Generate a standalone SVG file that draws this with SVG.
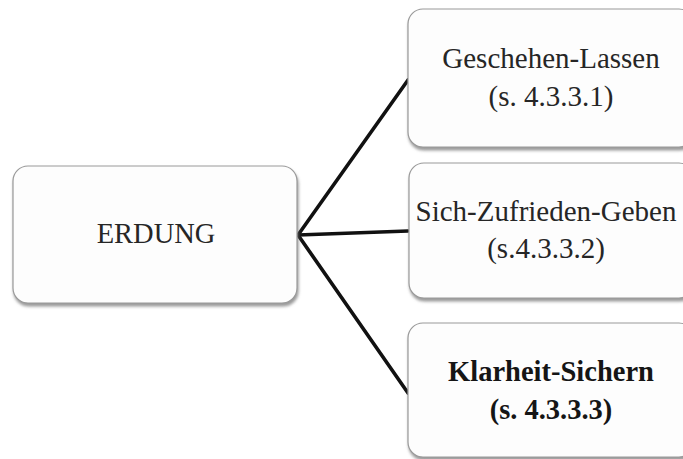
<svg xmlns="http://www.w3.org/2000/svg" width="683" height="459" viewBox="0 0 683 459">
  <defs>
    <filter id="shadow" x="-10%" y="-10%" width="120%" height="130%">
      <feDropShadow dx="1" dy="3" stdDeviation="1.6" flood-color="#777" flood-opacity="0.75"/>
    </filter>
  </defs>
  <style>
    .box { fill: #fdfdfd; stroke: #9a9a9a; stroke-width: 1.2; filter: url(#shadow); }
    .label { font-family: "Liberation Serif", "Times New Roman", serif; font-size: 29px; fill: #262626; text-anchor: middle; }
    .root { font-size: 28.5px; }
    .bold { font-weight: bold; fill: #151515; font-size: 28.5px; }
    .link { stroke: #111; stroke-width: 3.6; fill: none; stroke-linecap: round; }
  </style>
  <rect width="683" height="459" fill="#ffffff"/>

  <!-- connectors from the root to the three branches -->
  <g id="connectors">
    <line class="link" x1="298" y1="235" x2="408" y2="80"/>
    <line class="link" x1="298" y1="235" x2="408" y2="231"/>
    <line class="link" x1="298" y1="235" x2="408" y2="393"/>
  </g>

  <g id="erdung">
    <rect class="box" x="13" y="166" width="284" height="137" rx="15"/>
    <text class="label root" x="156" y="243">ERDUNG</text>
  </g>

  <g id="geschehen-lassen">
    <rect class="box" x="408" y="9" width="286" height="138" rx="15"/>
    <text class="label" x="551" y="68">Geschehen-Lassen</text>
    <text class="label" x="551" y="106">(s. 4.3.3.1)</text>
  </g>

  <g id="sich-zufrieden-geben">
    <rect class="box" x="409" y="163" width="285" height="135" rx="15"/>
    <text class="label" x="546" y="221">Sich-Zufrieden-Geben</text>
    <text class="label" x="546" y="258">(s.4.3.3.2)</text>
  </g>

  <g id="klarheit-sichern">
    <rect class="box" x="408" y="323" width="286" height="134" rx="15"/>
    <text class="label bold" x="551" y="381">Klarheit-Sichern</text>
    <text class="label bold" x="551" y="419">(s. 4.3.3.3)</text>
  </g>
</svg>
